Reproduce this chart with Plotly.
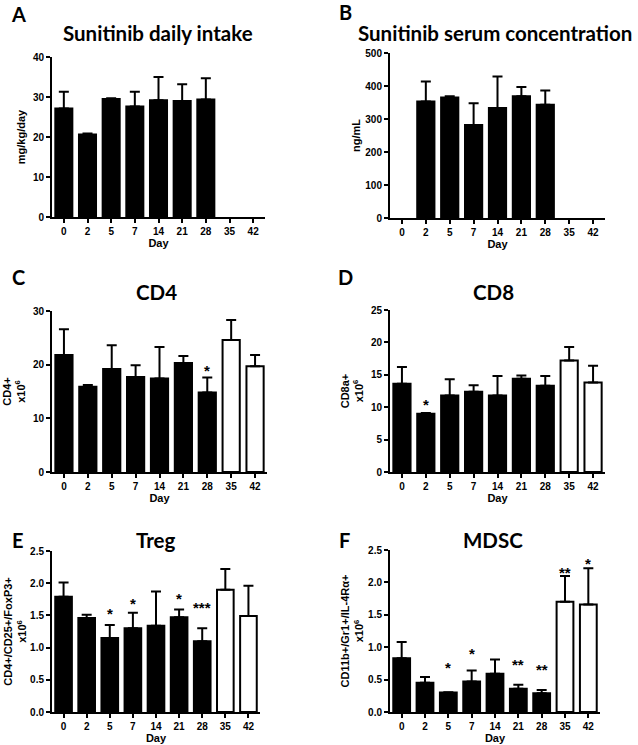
import plotly.graph_objects as go

days = ["0", "2", "5", "7", "14", "21", "28", "35", "42"]
on_drug = [True, True, True, True, True, True, True, False, False]

intake_mean = [27.1, 20.6, 29.5, 27.6, 29.2, 29.0, 29.4, None, None]
intake_err = [4.2, 0.3, 0.2, 3.7, 5.8, 4.2, 5.3, None, None]

serum_mean = [None, 353, 365, 282, 333, 369, 343, None, None]
serum_err = [None, 61, 4, 66, 96, 28, 43, None, None]

cd4_mean = [21.8, 15.9, 19.2, 17.7, 17.4, 20.3, 14.8, 24.6, 19.7]
cd4_err = [4.8, 0.3, 4.4, 2.2, 5.9, 1.3, 2.8, 3.7, 2.1]
cd4_sig = ["", "", "", "", "", "", "*", "", ""]
cd4_sig_y = [None, None, None, None, None, None, 19.6, None, None]

cd8_mean = [13.6, 9.0, 11.8, 12.4, 11.8, 14.4, 13.3, 17.2, 13.8]
cd8_err = [2.6, 0.1, 2.5, 1.0, 3.0, 0.5, 1.5, 2.1, 2.6]
cd8_sig = ["", "*", "", "", "", "", "", "", ""]
cd8_sig_y = [None, 11.1, None, None, None, None, None, None, None]

treg_mean = [1.79, 1.46, 1.15, 1.30, 1.34, 1.47, 1.10, 1.90, 1.49]
treg_err = [0.22, 0.05, 0.20, 0.24, 0.53, 0.12, 0.20, 0.32, 0.47]
treg_sig = ["", "", "*", "*", "", "*", "***", "", ""]
treg_sig_y = [None, None, 1.59, 1.75, None, 1.83, 1.69, None, None]

mdsc_mean = [0.83, 0.45, 0.30, 0.47, 0.59, 0.36, 0.29, 1.70, 1.66]
mdsc_err = [0.25, 0.09, 0.005, 0.17, 0.22, 0.06, 0.05, 0.40, 0.56]
mdsc_sig = ["", "", "*", "*", "", "**", "**", "**", "*"]
mdsc_sig_y = [None, None, 0.75, 0.96, None, 0.79, 0.72, 2.21, 2.35]

W, H = 638, 745
TICKF = dict(family="Liberation Sans, Arial", size=10, color="black", weight="bold")
TITLEF = dict(family="Liberation Sans, Arial", size=11, color="black", weight="bold")


def px(x):
    return x / W


def py(y):
    return 1 - y / H


panels = [
    dict(letter="A", title="Sunitinib daily intake", mean=intake_mean, err=intake_err, sig=None, sy=None,
         yr=40, dt=10, fmt="d", yt="mg/kg/day", xd=(52, 265), yd=(57, 217), so=5,
         lp=(18.5, 14), tp=(158, 33)),
    dict(letter="B", title="Sunitinib serum concentration", mean=serum_mean, err=serum_err, sig=None, sy=None,
         yr=500, dt=100, fmt="d", yt="ng/mL", xd=(390, 605), yd=(53, 218), so=2,
         lp=(345, 12), tp=(495, 33)),
    dict(letter="C", title="CD4", mean=cd4_mean, err=cd4_err, sig=cd4_sig, sy=cd4_sig_y,
         yr=30, dt=10, fmt="d", yt="CD4+<br>x10<sup>6</sup>", xd=(52, 267), yd=(311, 472), so=5,
         lp=(18.5, 277), tp=(156, 292)),
    dict(letter="D", title="CD8", mean=cd8_mean, err=cd8_err, sig=cd8_sig, sy=cd8_sig_y,
         yr=25, dt=5, fmt="d", yt="CD8a+<br>x10<sup>6</sup>", xd=(390, 605), yd=(310, 472), so=5,
         lp=(345.5, 277), tp=(493, 292)),
    dict(letter="E", title="Treg", mean=treg_mean, err=treg_err, sig=treg_sig, sy=treg_sig_y,
         yr=2.5, dt=0.5, fmt=".1f", yt="CD4+/CD25+/FoxP3+<br>x10<sup>6</sup>", xd=(52, 260), yd=(551, 712), so=1,
         lp=(18, 540), tp=(156, 540)),
    dict(letter="F", title="MDSC", mean=mdsc_mean, err=mdsc_err, sig=mdsc_sig, sy=mdsc_sig_y,
         yr=2.5, dt=0.5, fmt=".1f", yt="CD11b+/Gr1+/IL-4Rα+<br>x10<sup>6</sup>", xd=(390, 600), yd=(550, 712), so=2,
         lp=(344, 540), tp=(493, 540)),
]

fig = go.Figure()
annotations = []
layout = {}
for i, p in enumerate(panels):
    n = "" if i == 0 else str(i + 1)
    xa, ya = "x" + n, "y" + n
    colors = ["black" if d else "white" for d in on_drug]
    fig.add_trace(go.Bar(
        x=days, y=p["mean"], xaxis=xa, yaxis=ya, width=0.72,
        marker=dict(color=colors, line=dict(color="black", width=2)),
        error_y=dict(type="data", symmetric=False, array=p["err"],
                     arrayminus=[0] * len(days), color="black", thickness=2, width=5),
        showlegend=False,
    ))
    layout["xaxis" + n] = dict(
        domain=[px(p["xd"][0]), px(p["xd"][1])], anchor=ya, type="category",
        range=[-0.5, 8.5], showline=True, linecolor="black", linewidth=2,
        ticks="outside", ticklen=4, tickwidth=2, tickcolor="black",
        tickfont=TICKF, title=dict(text="Day", font=TITLEF, standoff=0),
        showgrid=False, zeroline=False, fixedrange=True, automargin=False,
    )
    layout["yaxis" + n] = dict(
        domain=[py(p["yd"][1]), py(p["yd"][0])], anchor=xa,
        range=[0, p["yr"]], dtick=p["dt"], tick0=0, tickformat=p["fmt"],
        showline=True, linecolor="black", linewidth=2,
        ticks="outside", ticklen=4, tickwidth=2, tickcolor="black",
        tickfont=TICKF, title=dict(text=p["yt"], font=TITLEF, standoff=p["so"]),
        showgrid=False, zeroline=False, fixedrange=True, automargin=False,
    )
    annotations.append(dict(text=p["letter"], x=px(p["lp"][0]), y=py(p["lp"][1]),
                            xref="paper", yref="paper", showarrow=False,
                            xanchor="center", yanchor="middle",
                            font=dict(family="Lato, Open Sans", size=20, color="black", weight="bold")))
    annotations.append(dict(text=p["title"], x=px(p["tp"][0]), y=py(p["tp"][1]),
                            xref="paper", yref="paper", showarrow=False,
                            xanchor="center", yanchor="middle",
                            font=dict(family="Lato, Open Sans", size=20.5, color="black", weight="bold")))
    if p["sig"]:
        for k, (s, sy) in enumerate(zip(p["sig"], p["sy"])):
            if s:
                annotations.append(dict(text=s, x=k, y=sy, xref=xa, yref=ya,
                                        showarrow=False, xanchor="center", yanchor="middle",
                                        yshift=-4,
                                        font=dict(family="Liberation Sans, Arial", size=15, color="black", weight="bold")))

fig.update_layout(
    width=W, height=H, margin=dict(l=0, r=0, t=0, b=0, autoexpand=False),
    paper_bgcolor="white", plot_bgcolor="white", hovermode=False,
    annotations=annotations, bargap=0.28, **layout,
)
fig.write_html(
    "out.html",
    config={"displayModeBar": False, "staticPlot": True},
    post_script="document.body.style.margin='0';document.body.style.overflow='hidden';",
)
